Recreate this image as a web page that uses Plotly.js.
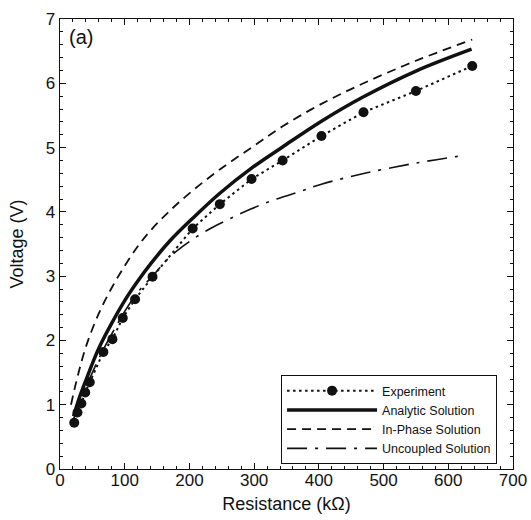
<!DOCTYPE html>
<html>
<head>
<meta charset="utf-8">
<script src="https://cdn.plot.ly/plotly-3.0.1.min.js"></script>
<style>html,body{margin:0;padding:0;background:#fff;}#chart{width:531px;height:520px;}</style>
</head>
<body>
<div id="chart"></div>
<script>
// Experiment (measured points)
const expR = [22, 27, 33, 39, 46, 67, 81, 97, 116, 143, 205, 247, 296, 344, 404, 469, 550, 637];
const expV = [0.72, 0.88, 1.02, 1.19, 1.35, 1.82, 2.02, 2.35, 2.64, 2.99, 3.74, 4.12, 4.51, 4.80, 5.18, 5.55, 5.88, 6.27];

// Analytic Solution
const anaR = [21, 30, 40, 50, 60, 80, 100, 120, 140, 170, 205, 247, 296, 344, 404, 469, 550, 636];
const anaV = [0.82, 1.11, 1.38, 1.64, 1.88, 2.27, 2.62, 2.92, 3.19, 3.55, 3.90, 4.29, 4.68, 5.01, 5.41, 5.79, 6.19, 6.53];

// In-Phase Solution
const inpR = [17, 25, 40, 60, 80, 100, 120, 140, 170, 205, 247, 296, 344, 404, 469, 550, 637];
const inpV = [1.00, 1.35, 1.90, 2.42, 2.82, 3.16, 3.46, 3.71, 4.02, 4.33, 4.66, 5.00, 5.33, 5.68, 6.00, 6.35, 6.68];

// Uncoupled Solution
const uncR = [21, 30, 40, 50, 65, 80, 100, 120, 143, 170, 196, 227, 260, 294, 332, 366, 404, 471, 551, 626];
const uncV = [0.78, 1.02, 1.28, 1.50, 1.82, 2.10, 2.45, 2.75, 3.00, 3.30, 3.51, 3.71, 3.88, 4.04, 4.19, 4.30, 4.43, 4.60, 4.76, 4.88];

const names = ['Experiment', 'Analytic Solution', 'In-Phase Solution', 'Uncoupled Solution'];
const ink = '#111111';
const FONT = 'Liberation Sans, Arial, Helvetica, sans-serif';

const traces = [
  {x: expR, y: expV, name: names[0], mode: 'lines+markers',
   line: {color: ink, width: 2, dash: '2.5px,3.5px'},
   marker: {color: ink, size: 10, symbol: 'circle'}},
  {x: anaR, y: anaV, name: names[1], mode: 'lines', line: {color: ink, width: 3.5, shape: 'spline'}},
  {x: inpR, y: inpV, name: names[2], mode: 'lines', line: {color: ink, width: 1.8, dash: '9px,6px', shape: 'spline'}},
  {x: uncR, y: uncV, name: names[3], mode: 'lines', line: {color: ink, width: 1.6, dash: '20px,8px,3px,8px', shape: 'spline'}}
];

const axisCommon = {
  showline: true, linecolor: ink, linewidth: 1.3, mirror: 'ticks',
  ticks: 'inside', ticklen: 6, tickwidth: 1, tickcolor: ink,
  showgrid: false, zeroline: false,
  tickfont: {family: FONT, size: 17, color: ink}
};

const layout = {
  width: 531, height: 520,
  margin: {l: 60, r: 18, t: 19, b: 51},
  paper_bgcolor: '#fff', plot_bgcolor: '#fff',
  font: {family: FONT, color: ink},
  showlegend: true,
  xaxis: Object.assign({}, axisCommon, {
    range: [0, 700], dtick: 100, tick0: 0,
    ticklabelstandoff: -5,
    minor: {dtick: 20, ticks: 'inside', ticklen: 3, tickcolor: ink, tickwidth: 1},
    title: {text: 'Resistance (kΩ)', font: {family: FONT, size: 18, color: ink}, standoff: 8}
  }),
  yaxis: Object.assign({}, axisCommon, {
    range: [0, 7], dtick: 1, tick0: 0,
    minor: {dtick: 0.2, ticks: 'inside', ticklen: 3, tickcolor: ink, tickwidth: 1},
    title: {text: 'Voltage (V)', font: {family: FONT, size: 18, color: ink}, standoff: 17}
  }),
  legend: {
    x: 0.488, y: 0.11, xanchor: 'left', yanchor: 'middle',
    bordercolor: ink, borderwidth: 1, bgcolor: '#fff',
    font: {family: FONT, size: 12.5, color: ink},
    itemwidth: 90, tracegroupgap: 0
  },
  annotations: [{
    text: '(a)', xref: 'paper', yref: 'paper', x: 0.016, y: 0.99,
    xanchor: 'left', yanchor: 'top', showarrow: false,
    font: {family: FONT, size: 20, color: ink}
  }]
};

Plotly.newPlot('chart', traces, layout, {displayModeBar: false, staticPlot: true});
</script>
</body>
</html>
